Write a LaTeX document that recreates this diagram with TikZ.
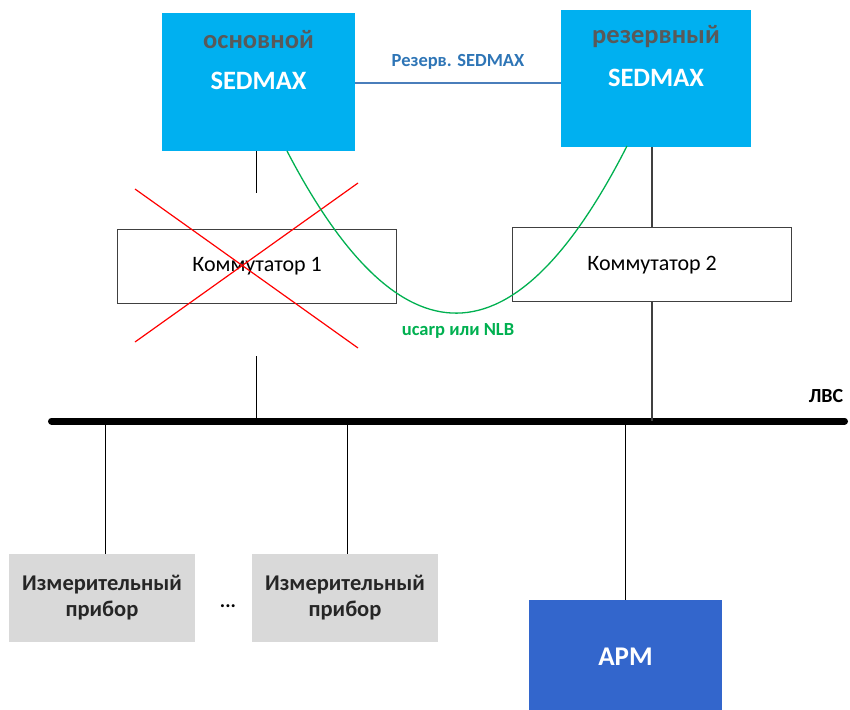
\documentclass[tikz,border=0pt]{standalone}
\usepackage{fontspec}
\setmainfont{Carlito}
\definecolor{srvcyan}{HTML}{00B0F0}
\definecolor{armblue}{HTML}{3366CC}
\definecolor{devgray}{HTML}{D9D9D9}
\definecolor{lblgray}{HTML}{595959}
\definecolor{linkblue}{HTML}{2E75B6}
\definecolor{linkline}{HTML}{4A7EBB}
\definecolor{ucgreen}{HTML}{00B050}
\definecolor{swborder}{HTML}{404040}
\begin{document}
\begin{tikzpicture}[x=1pt,y=-1pt,
  srvbox/.style={fill=srvcyan, draw=none, anchor=north west, inner sep=0pt, minimum width=#1},
  swbox/.style={draw=swborder, line width=1.3pt, fill=white, anchor=north west, inner sep=0pt, minimum width=279pt, minimum height=74pt},
  devbox/.style={fill=devgray, draw=none, anchor=north west, inner sep=0pt, minimum width=186pt, minimum height=88pt},
  armbox/.style={fill=armblue, draw=none, anchor=north west, inner sep=0pt, minimum width=193pt, minimum height=110pt},
  bigbold/.style={font=\fontsize{26.5}{30}\selectfont\bfseries, inner sep=0pt},
  midtext/.style={font=\fontsize{22}{26}\selectfont, inner sep=0pt},
  devtext/.style={font=\fontsize{22.5}{26}\selectfont\bfseries, text=black!85, align=center, inner sep=0pt},
  smallbold/.style={font=\fontsize{18.5}{22}\selectfont\bfseries, inner sep=0pt},
  thinline/.style={draw=black, line width=1pt},
  darkline/.style={draw=swborder, line width=1.5pt},
  redx/.style={draw=red, line width=1.2pt},
  ucline/.style={draw=ucgreen, line width=1.3pt},
  busline/.style={draw=black, line width=7pt, line cap=round}
]
\useasboundingbox (0,0) rectangle (850,709);

% servers
\node[srvbox=193pt, minimum height=138pt] (main) at (162,13) {};
\node[srvbox=190pt, minimum height=137pt] (backup) at (561,10) {};
\node[bigbold, text=lblgray] (mainlbl) at (258.5,40) {основной};
\node[bigbold, text=white] (mainsed) at (258.5,81) {SEDMAX};
\node[bigbold, text=lblgray] (backlbl) at (656,37) {резервный};
\node[bigbold, text=white] (backsed) at (656,78) {SEDMAX};

% link between servers
\draw[linkline, line width=1.2pt] (355,83) coordinate (lk1) -- (lk1 -| backup.west);
\node[smallbold, text=linkblue] (rezlbl) at (458,62) {Резерв. SEDMAX};

% switches
\node[swbox] (sw1) at (117,229) {};
\node[midtext] (sw1lbl) at (sw1.center) {Коммутатор 1};
\node[swbox] (sw2) at (512,227) {};
\node[midtext] (sw2lbl) at (sw2.center) {Коммутатор 2};

% bus
\coordinate (busL) at (51.5,421);
\coordinate (busR) at (844.5,421);
\draw[busline] (busL) -- (busR);
\node[font=\fontsize{20}{24}\selectfont\bfseries, inner sep=0pt] (lvs) at (826,396) {ЛВС};

% switch connections
\coordinate (c1) at (256.5,193);
\coordinate (c2) at (256.5,356);
\draw[thinline] (c1 |- main.south) -- (c1);
\draw[thinline] (c2) -- (c2 |- busL);
\draw[darkline] (sw2.north |- backup.south) -- (sw2.north);
\draw[darkline] (sw2.south) -- (sw2.south |- busL);

% red cross
\coordinate (x1a) at (135,189);
\coordinate (x1b) at (358,348);
\coordinate (x2a) at (135,342);
\coordinate (x2b) at (358,183);
\draw[redx] (x1a) -- (x1b);
\draw[redx] (x2a) -- (x2b);

% ucarp curve
\coordinate (ucA) at (287,151);
\coordinate (ucB) at (627,146);
\draw[ucline] (ucA) .. controls (400,368) and (514,368) .. (ucB);
\node[smallbold, text=ucgreen] (uclbl) at (458,331) {ucarp или NLB};

% devices
\node[devbox] (dev1) at (9,554) {};
\node[devtext] (dev1lbl) at (102,598) {Измерительный\\прибор};
\node[devbox] (dev2) at (252,554) {};
\node[devtext] (dev2lbl) at (345,598) {Измерительный\\прибор};
\node[font=\fontsize{20}{24}\selectfont\bfseries, inner sep=0pt] (dots) at (228,606) {...};
\node[armbox] (arm) at (529,600) {};
\node[font=\fontsize{27}{30}\selectfont\bfseries, text=white, inner sep=0pt] (armlbl) at (625.5,657) {АРМ};

\coordinate (t1) at (105,421);
\coordinate (t2) at (347,421);
\coordinate (t3) at (625,421);
\draw[thinline] (t1) -- (t1 |- dev1.north);
\draw[thinline] (t2) -- (t2 |- dev2.north);
\draw[thinline] (t3) -- (t3 |- arm.north);
\end{tikzpicture}
\end{document}
